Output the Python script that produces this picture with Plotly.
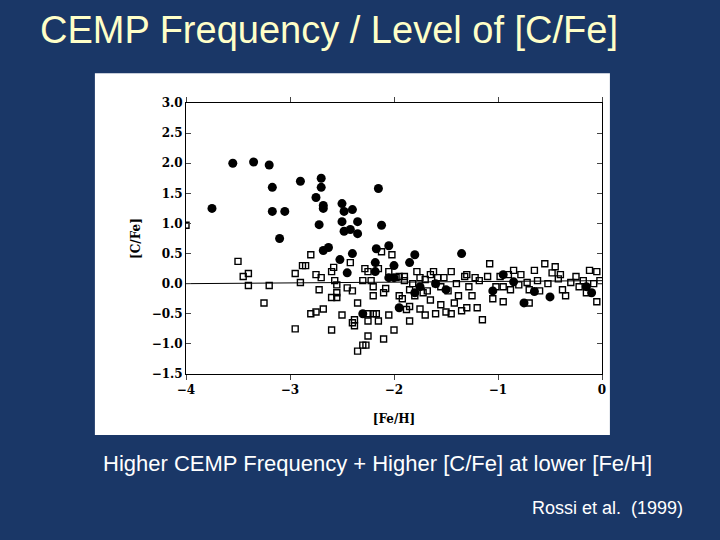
import plotly.graph_objects as go

# CEMP stars (filled circles)
cemp_feh = [-3.75, -3.55, -3.35, -3.2, -3.17, -3.17, -3.05, -3.1, -2.9, -2.75, -2.7, -2.7, -2.68, -2.68,
            -2.72, -2.68, -2.63, -2.5, -2.48, -2.5, -2.48, -2.42, -2.4, -2.35, -2.35, -2.4, -2.52, -2.45,
            -2.15, -2.12, -2.17, -2.05, -2.18, -2.18, -2.0, -1.8, -1.85, -1.35, -2.3, -1.95, -1.8, -1.75,
            -1.05, -0.95, -0.75, -0.65, -0.5, -0.85, -0.15, -0.1, -1.5, -2.0, -1.6, -2.05]
cemp_cfe = [1.25, 2.0, 2.02, 1.97, 1.6, 1.2, 1.2, 0.75, 1.7, 1.43, 1.75, 1.6, 1.3, 1.25,
            0.98, 0.55, 0.6, 1.33, 1.2, 1.03, 0.87, 0.9, 1.23, 1.03, 0.83, 0.5, 0.4, 0.18,
            1.58, 0.97, 0.58, 0.63, 0.35, 0.2, 0.3, 0.48, 0.35, 0.5, -0.5, -0.4, -0.15, -0.05,
            -0.12, 0.15, -0.32, -0.13, -0.22, 0.03, -0.05, -0.15, -0.1, 0.1, 0.0, 0.1]

# normal stars (open squares)
norm_feh = [-4.0, -3.5, -3.45, -3.4, -3.4, -3.2, -3.25, -2.95, -2.95, -2.9, -2.88, -2.85, -2.8, -2.8,
            -2.75, -2.75, -2.72, -2.7, -2.68, -2.6, -2.6, -2.6, -2.58, -2.57, -2.55, -2.55, -2.55, -2.5,
            -2.45, -2.42, -2.4, -2.4, -2.38, -2.38, -2.35, -2.35, -2.3, -2.27, -2.28, -2.25, -2.25, -2.25,
            -2.2, -2.22, -2.2, -2.2, -2.17, -2.15, -2.12, -2.1, -2.1, -2.08, -2.05, -2.02, -2.0, -1.98,
            -1.95, -1.92, -1.9, -1.85, -1.85, -1.88, -1.85, -1.8, -1.78, -1.75, -1.7, -1.7, -1.68, -1.65,
            -1.62, -1.6, -1.58, -1.55, -1.52, -1.5, -1.45, -1.45, -1.42, -1.4, -1.38, -1.35, -1.32, -1.3,
            -1.28, -1.25, -1.22, -1.2, -1.15, -1.1, -1.08, -1.05, -1.02, -0.98, -0.95, -0.9, -0.85, -0.8,
            -0.78, -0.72, -0.7, -0.7, -0.65, -0.62, -0.55, -0.52, -0.48, -0.45, -0.42, -0.38, -0.35, -0.3,
            -0.25, -0.22, -0.18, -0.12, -0.08, -0.05, -0.05, -0.02, -1.75, -1.6, -1.55, -1.9, -2.05, -1.95,
            -1.3, -0.6, -0.95, -2.15, -2.3, -1.65, -1.48, -1.72, -1.18, -0.88, -0.4, -0.15, -2.25, -1.82]
norm_cfe = [0.97, 0.37, 0.12, 0.17, -0.03, -0.03, -0.32, -0.75, 0.17, 0.02, 0.3, 0.3, 0.48, -0.5,
            -0.47, 0.15, -0.1, 0.1, -0.42, -0.77, -0.23, 0.2, 0.27, 0.05, -0.02, -0.23, -0.15, -0.52,
            -0.07, 0.35, -0.12, -0.65, -0.6, -0.7, -0.32, -1.12, -1.02, -1.02, 0.25, -0.87, -0.62, -0.5,
            -0.5, 0.05, -0.05, -0.2, -0.5, -0.62, 0.53, -0.92, -0.15, -0.08, -0.52, 0.48, -0.77, 0.1,
            -0.2, -0.25, 0.05, -0.62, -0.1, -0.43, -0.38, -0.2, 0.2, -0.42, -0.52, 0.07, -0.12, -0.27,
            0.2, -0.5, 0.1, -0.35, 0.1, -0.47, 0.2, -0.5, -0.32, 0.0, -0.2, -0.45, 0.12, -0.4,
            -0.05, -0.2, 0.1, -0.4, -0.6, 0.12, 0.33, -0.25, -0.05, 0.12, -0.3, 0.15, 0.22, -0.02,
            0.15, 0.02, -0.1, -0.32, 0.22, 0.05, 0.33, 0.0, 0.18, 0.28, 0.08, -0.1, -0.2, 0.02,
            0.12, -0.05, 0.05, 0.22, 0.0, -0.3, 0.2, 0.05, 0.1, 0.0, -0.05, 0.12, 0.2, 0.12,
            0.15, -0.12, -0.05, 0.25, 0.05, 0.15, -0.12, -0.15, 0.05, -0.1, 0.15, -0.15, 0.2, 0.0]

x_ticks = [-4, -3, -2, -1, 0]
x_labels = ["\u22124", "\u22123", "\u22122", "\u22121", "0"]
y_ticks = [-1.5, -1.0, -0.5, 0.0, 0.5, 1.0, 1.5, 2.0, 2.5, 3.0]
y_labels = ["\u22121.5", "\u22121.0", "\u22120.5", "0.0", "0.5", "1.0", "1.5", "2.0", "2.5", "3.0"]

fig = go.Figure()

# zero reference line
fig.add_trace(go.Scatter(x=[-4, 0], y=[0, 0.05], mode="lines",
                         line=dict(color="black", width=1), showlegend=False))

fig.add_trace(go.Scatter(x=norm_feh, y=norm_cfe, mode="markers", showlegend=False,
                         marker=dict(symbol="square-open", size=6, color="black",
                                     line=dict(width=1.4))))
fig.add_trace(go.Scatter(x=cemp_feh, y=cemp_cfe, mode="markers", showlegend=False,
                         marker=dict(symbol="circle", size=9, color="black")))

axis_font = dict(family="DejaVu Serif", size=12, color="black", weight="bold")
fig.update_xaxes(range=[-4, 0], tickvals=x_ticks, ticktext=x_labels, ticks="outside",
                 ticklen=5, showline=True, linecolor="black", mirror="allticks",
                 showgrid=False, zeroline=False, tickfont=axis_font,
                 title=dict(text="[Fe/H]", font=axis_font, standoff=18))
fig.update_yaxes(range=[-1.5, 3.0], tickvals=y_ticks, ticktext=y_labels, ticks="inside",
                 ticklen=5, showline=True, linecolor="black", mirror="allticks",
                 showgrid=False, zeroline=False, tickfont=axis_font,
                 title=dict(text="[C/Fe]", font=axis_font, standoff=8))

fig.update_layout(
    width=720, height=540,
    margin=dict(l=186, r=118, t=103, b=166),
    paper_bgcolor="#1a3767", plot_bgcolor="white",
    shapes=[dict(type="rect", xref="paper", yref="paper", x0=-0.219, x1=1.019,
                 y0=-0.225, y1=1.11, fillcolor="white", line=dict(width=0), layer="below")],
    annotations=[
        dict(text="CEMP Frequency / Level of [C/Fe]", xref="paper", yref="paper",
             x=-0.355, y=1.27, xanchor="left", yanchor="middle", showarrow=False,
             font=dict(family="Liberation Sans", size=38, color="#ffffc8")),
        dict(text="Higher CEMP Frequency + Higher [C/Fe] at lower [Fe/H]", xref="paper", yref="paper",
             x=-0.205, y=-0.33, xanchor="left", yanchor="middle", showarrow=False,
             font=dict(family="Liberation Sans", size=22, color="white")),
        dict(text="Rossi et al.  (1999)", xref="paper", yref="paper",
             x=1.2, y=-0.494, xanchor="right", yanchor="middle", showarrow=False,
             font=dict(family="Liberation Sans", size=18, color="white")),
    ],
)

fig.write_html("out.html", config={"displayModeBar": False},
               post_script="document.body.style.margin='0';")
